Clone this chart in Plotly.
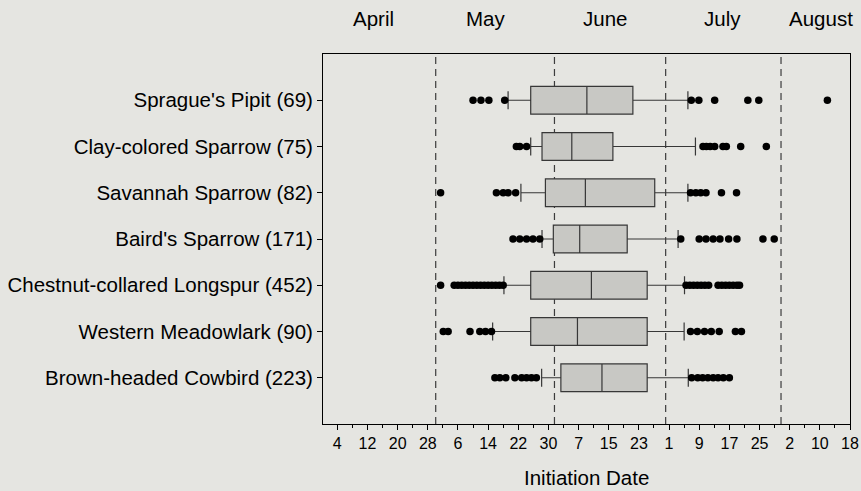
import plotly.graph_objects as go

# Day-of-year values (April 1 = 91, May 1 = 121, June 1 = 152, July 1 = 182, Aug 1 = 213)
species = [
    "Sprague's Pipit (69)",
    "Clay-colored Sparrow (75)",
    "Savannah Sparrow (82)",
    "Baird's Sparrow (171)",
    "Chestnut-collared Longspur (452)",
    "Western Meadowlark (90)",
    "Brown-headed Cowbird (223)",
]
q1 = [145.3, 148.3, 149.2, 151.3, 145.3, 145.3, 153.3]
median = [160.2, 156.2, 159.8, 158.3, 161.4, 157.7, 164.2]
q3 = [172.4, 167.1, 178.2, 170.9, 176.2, 176.2, 176.2]
low_whisker = [139.3, 145.3, 142.7, 148.3, 138.2, 135.2, 148.2]
high_whisker = [187.0, 189.0, 187.0, 184.4, 186.1, 186.0, 187.1]

outliers_sprague = [130.0, 132.1, 134.2, 138.4, 187.9, 189.9, 194.1, 202.9, 205.8, 224.0]
outliers_claycolored = [141.5, 142.4, 144.2, 191.0, 191.9, 192.9, 194.1, 196.3, 197.2, 201.0, 207.8]
outliers_savannah = [121.4, 136.2, 138.0, 139.3, 141.3, 187.7, 189.1, 190.4, 191.8, 195.9, 199.9]
outliers_bairds = [140.6, 142.4, 144.2, 145.9, 147.7, 185.1, 190.0, 191.8, 193.7, 195.5,
                   197.8, 200.0, 206.9, 209.9]
outliers_chestnut = [121.4, 125, 126, 127, 128, 129, 130, 131, 132, 133, 134, 135, 136, 137, 138,
                     186.5, 187.5, 188.5, 189.5, 190.5, 191.5, 192.5,
                     195, 196, 197, 198, 199, 200, 200.7]
outliers_meadowlark = [122.1, 123.4, 129.2, 131.8, 133.3, 134.9,
                       187.7, 189.5, 191.4, 193.2, 195.3, 199.6, 201.2]
outliers_cowbird = [135.8, 137.1, 138.7, 141.1, 142.9, 144.2, 145.5, 146.8,
                    188.0, 189.6, 190.9, 192.3, 193.7, 195.0, 196.4, 198.0]
outliers = [outliers_sprague, outliers_claycolored, outliers_savannah, outliers_bairds,
            outliers_chestnut, outliers_meadowlark, outliers_cowbird]

tick_days = [94, 102, 110, 118, 126, 134, 142, 150, 158, 166, 174, 182, 190, 198, 206, 214, 222, 230]
tick_labels = ["4", "12", "20", "28", "6", "14", "22", "30", "7", "15", "23",
               "1", "9", "17", "25", "2", "10", "18"]
minor_tick_days = [90 + 4 * i for i in range(36) if 90 + 4 * i <= 230]

month_boundaries = [120.1, 151.6, 181.1, 211.7]
month_names = ["April", "May", "June", "July", "August"]
month_label_days = [103.6, 133.3, 164.9, 196.1, 222.4]

x_title = "Initiation Date"

BG = "rgb(229,229,225)"
FONT = "Liberation Sans, Arial, sans-serif"

fig = go.Figure()

fig.add_trace(go.Box(
    y=species, q1=q1, median=median, q3=q3,
    lowerfence=low_whisker, upperfence=high_whisker,
    orientation="h", boxpoints=False,
    width=0.6, whiskerwidth=0.65,
    fillcolor="rgb(200,200,196)",
    line=dict(color="rgb(55,55,55)", width=1.2),
    showlegend=False, hoverinfo="skip",
))

ox, oy = [], []
for name, vals in zip(species, outliers):
    ox.extend(vals)
    oy.extend([name] * len(vals))
fig.add_trace(go.Scatter(
    x=ox, y=oy, mode="markers",
    marker=dict(color="black", size=7.5),
    showlegend=False, hoverinfo="skip",
))

for xb in month_boundaries:
    fig.add_shape(type="line", x0=xb, x1=xb, xref="x", y0=0, y1=1, yref="paper",
                  line=dict(color="rgb(60,60,60)", width=1.2, dash="7px,5px"), layer="below")

for name, xd in zip(month_names, month_label_days):
    fig.add_annotation(x=xd, xref="x", y=1.097, yref="paper", text=name,
                       showarrow=False, xanchor="center", yanchor="middle",
                       font=dict(size=20.5, color="black", family=FONT))

fig.add_annotation(x=0.5, xref="paper", y=-0.145, yref="paper", text=x_title,
                   showarrow=False, xanchor="center", yanchor="middle",
                   font=dict(size=20.5, color="black", family=FONT))

fig.update_layout(
    width=861, height=491, autosize=False,
    margin=dict(l=323, r=11, t=54, b=67),
    paper_bgcolor=BG, plot_bgcolor=BG,
    font=dict(family=FONT, color="black"),
    xaxis=dict(
        range=[90.2, 230], tickmode="array", tickvals=tick_days, ticktext=tick_labels,
        ticks="outside", ticklen=5, tickcolor="black", automargin=False,
        minor=dict(tickvals=minor_tick_days, ticks="outside", ticklen=3, tickcolor="black"),
        tickfont=dict(size=16, family=FONT),
        showgrid=False, zeroline=False,
        showline=True, linecolor="black", linewidth=1, mirror=True,
    ),
    yaxis=dict(
        type="category", categoryorder="array", categoryarray=species[::-1],
        range=[-1, 7], ticks="outside", ticklen=5, tickcolor="black", automargin=False,
        tickfont=dict(size=20.5, family=FONT),
        showgrid=False, zeroline=False,
        showline=True, linecolor="black", linewidth=1, mirror=True,
    ),
)

fig.write_html(
    "out.html",
    config={"displayModeBar": False},
    post_script="document.body.style.margin='0';document.body.style.padding='0';"
                "document.body.style.background='rgb(229,229,225)';",
)
